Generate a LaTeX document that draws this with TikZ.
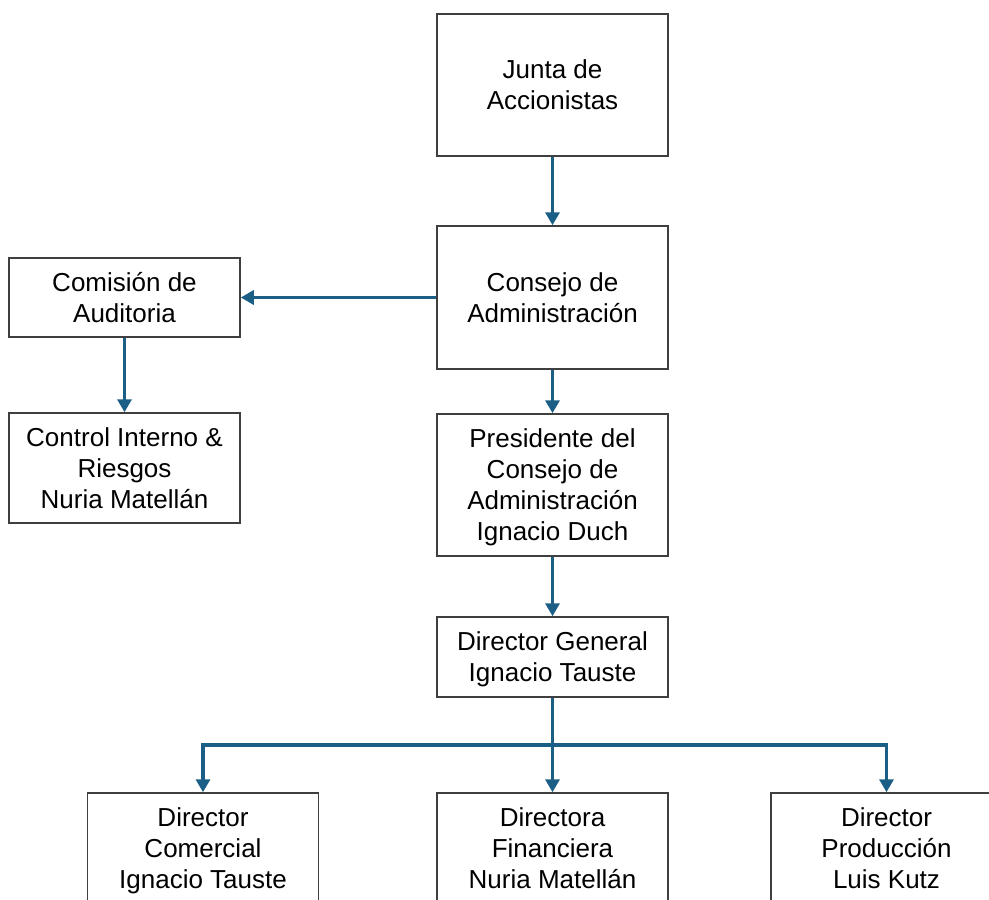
\documentclass[tikz,border=0pt]{standalone}
\usepackage{fontspec}
\setmainfont{Liberation Sans}
\usetikzlibrary{arrows.meta, positioning, calc}
\definecolor{OrgBlue}{HTML}{1B5F86}
\definecolor{BoxLine}{HTML}{3F3F3F}

\begin{document}
\begin{tikzpicture}[
    x=0.5pt, y=-0.5pt,
    every node/.style={font=\fontsize{13}{15.5}\selectfont},
    unit/.style={draw=BoxLine, line width=0.75pt, minimum width=115.5pt,
        inner sep=0pt, text depth=0pt, align=center, fill=white},
    arr/.style={-{Triangle[length=6.5pt, width=7pt]}, line width=1.8pt, OrgBlue},
]
\clip (0,0) rectangle (989,899);

% === Top of the chart ===
\node[unit, minimum height=71pt] (junta) at (552.5, 85)
    {Junta de\\Accionistas};
\node[unit, minimum height=71.5pt] (consejo) at (552.5, 297.5)
    {Consejo de\\Administración};

% === Audit branch ===
\node[unit, minimum height=39.5pt] (comision) at (124.5, 297.5)
    {Comisión de\\Auditoria};
\node[unit, minimum height=55pt] (control) at (124.5, 468)
    {Control Interno \&\\Riesgos\\Nuria Matellán};

% === Management line ===
\node[unit, minimum height=71pt] (presidente) at (552.5, 485)
    {Presidente del\\Consejo de\\Administración\\Ignacio Duch};
\node[unit, minimum height=40pt] (dgeneral) at (552.5, 657)
    {Director General\\Ignacio Tauste};

% === Directors ===
\node[unit, minimum height=55pt] (dcomercial) at (203, 848)
    {Director\\Comercial\\Ignacio Tauste};
\node[unit, minimum height=55pt] (dfinanciera) at (552.5, 848)
    {Directora\\Financiera\\Nuria Matellán};
\node[unit, minimum height=55pt] (dproduccion) at (886.5, 848)
    {Director\\Producción\\Luis Kutz};

\coordinate (bus) at (552.5, 745);

% === Connectors ===
\draw[arr] (junta) -- (consejo);
\draw[arr] (consejo) -- (comision);
\draw[arr] (comision) -- (control);
\draw[arr] (consejo) -- (presidente);
\draw[arr] (presidente) -- (dgeneral);
\draw[arr] (dgeneral) -- (dfinanciera);
\draw[arr] (bus) -| (dcomercial);
\draw[arr] (bus) -| (dproduccion);

\end{tikzpicture}
\end{document}
